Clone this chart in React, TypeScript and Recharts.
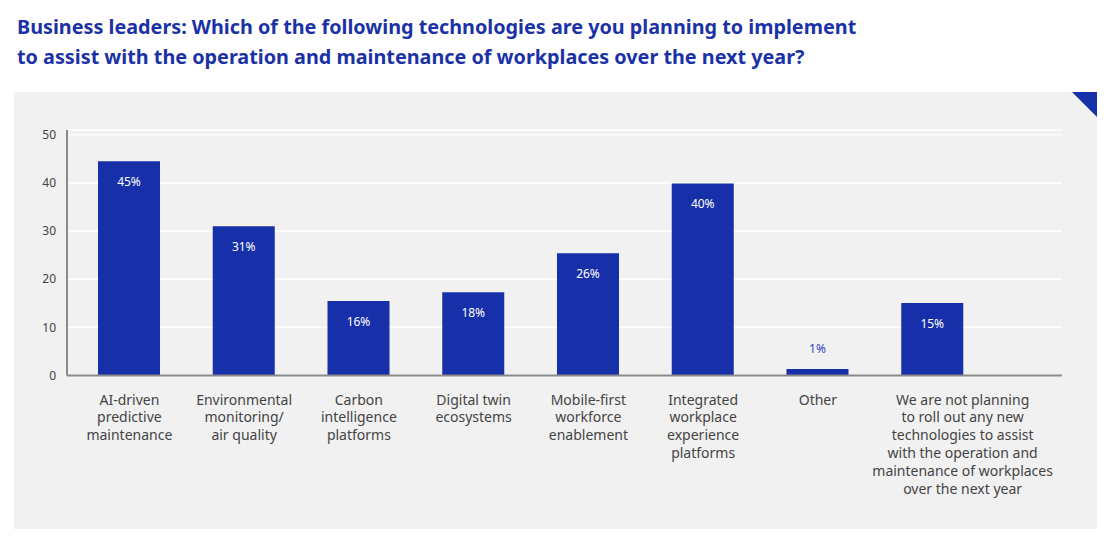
import React from "react";
import { BarChart, Bar, XAxis, YAxis, CartesianGrid, LabelList } from "recharts";

const categories = [
  "AI-driven\npredictive\nmaintenance",
  "Environmental\nmonitoring/\nair quality",
  "Carbon\nintelligence\nplatforms",
  "Digital twin\necosystems",
  "Mobile-first\nworkforce\nenablement",
  "Integrated\nworkplace\nexperience\nplatforms",
  "Other",
  "We are not planning\nto roll out any new\ntechnologies to assist\nwith the operation and\nmaintenance of workplaces\nover the next year",
];
const shares = [44.5, 31, 15.5, 17.3, 25.4, 39.9, 1.35, 15.05];
const shareLabels = ["45%", "31%", "16%", "18%", "26%", "40%", "1%", "15%"];
const yTicks = [0, 10, 20, 30, 40, 50];

const data = categories.map((name, i) => ({ name, value: shares[i], label: shareLabels[i] }));

const BLUE = "#172fa9";
const FONT = "'Noto Sans', 'Open Sans', sans-serif";

function CategoryTick(props: any) {
  const { x, y, payload, index } = props;
  const lines = String(payload.value).split("\n");
  // the long last label sits a bit right of its bar in the original
  const tx = index === categories.length - 1 ? x + 30 : x;
  return (
    <text x={tx} y={y + 27} textAnchor="middle" fill="#444" fontSize={14} fontFamily={FONT}>
      {lines.map((l, i) => (
        <tspan key={i} x={tx} dy={i === 0 ? 0 : 17.9}>
          {l}
        </tspan>
      ))}
    </text>
  );
}

function ShareLabel(props: any) {
  const { x, y, width, height, index } = props;
  const text = shareLabels[index];
  const cx = x + width / 2;
  if (height < 20) {
    return (
      <text x={cx} y={y - 16} textAnchor="middle" fill="#3447c4" fontSize={12} fontFamily={FONT}>
        {text}
      </text>
    );
  }
  return (
    <text x={cx} y={y + 25} textAnchor="middle" fill="#ffffff" fontSize={12} fontFamily={FONT}>
      {text}
    </text>
  );
}

export default function App() {
  return (
    <div style={{ position: "absolute", left: 0, top: 0, width: 1111, height: 540, background: "#fff", fontFamily: FONT }}>
      <div
        style={{
          position: "absolute",
          left: 17,
          top: 12,
          fontSize: 19.8,
          fontWeight: 700,
          lineHeight: "30px",
          color: "#1b32a6",
          whiteSpace: "nowrap",
        }}
      >
        Business leaders: Which of the following technologies are you planning to implement
        <br />
        to assist with the operation and maintenance of workplaces over the next year?
      </div>
      <div style={{ position: "absolute", left: 14, top: 92, width: 1083, height: 437, background: "#f1f1f1" }} />
      <svg style={{ position: "absolute", left: 0, top: 0 }} width={1111} height={540}>
        <polygon points="1072,92 1097,92 1097,117" fill={BLUE} />
      </svg>
      <div style={{ position: "absolute", left: 0, top: 0 }}>
        <BarChart
          width={1111}
          height={540}
          data={data}
          margin={{ top: 130, right: 49, bottom: 24.5, left: 0 }}
          barSize={62}
        >
          <CartesianGrid vertical={false} stroke="#ffffff" strokeWidth={1.5} />
          <XAxis
            dataKey="name"
            height={140}
            interval={0}
            padding={{ left: 5, right: 72 }}
            tick={<CategoryTick />}
            tickLine={false}
            tickSize={0}
            axisLine={{ stroke: "#8a8a8a", strokeWidth: 2 }}
          />
          <YAxis
            width={67}
            domain={[0, 51]}
            ticks={yTicks}
            tickLine={false}
            tickSize={0}
            tickMargin={11}
            axisLine={{ stroke: "#8a8a8a", strokeWidth: 2 }}
            tick={{ fill: "#444", fontSize: 12, fontFamily: FONT }}
          />
          <Bar dataKey="value" fill={BLUE} isAnimationActive={false}>
            <LabelList dataKey="label" content={<ShareLabel />} />
          </Bar>
        </BarChart>
      </div>
    </div>
  );
}
